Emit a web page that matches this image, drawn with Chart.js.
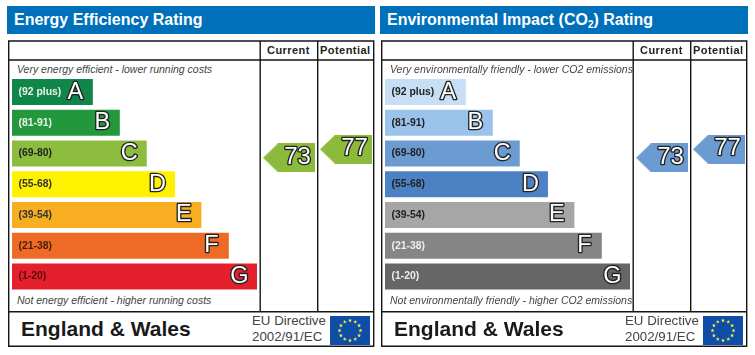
<!DOCTYPE html>
<html><head><meta charset="utf-8">
<script src="https://cdn.jsdelivr.net/npm/chart.js@4"></script>
<style>
html,body{margin:0;padding:0;background:#fff;width:755px;height:355px;overflow:hidden}
body{font-family:"Liberation Sans",Arial,sans-serif;position:relative;filter:blur(.4px)}
.panel{position:absolute;top:0;width:377px;height:355px}
.panel canvas{position:absolute;left:0;top:0}
.panel svg.grid{position:absolute;left:0;top:0}
.head{position:absolute;left:7px;top:6px;width:361px;height:28px;padding-left:7px;background:#0070ba;color:#fff;font:bold 16px/27px "Liberation Sans";white-space:nowrap}
.head sub{font-size:10px;line-height:0;vertical-align:-3px}
.t{position:absolute;white-space:nowrap}
.note{left:17px;font:italic 10.5px/12px "Liberation Sans";color:#444}
.col{top:43px;font:bold 11px/14px "Liberation Sans";color:#222;letter-spacing:.45px}
.nation{left:21px;top:316px;font:bold 21px/26px "Liberation Sans";color:#1a1a1a}
.eu{left:252px;font:13.3px/16px "Liberation Sans";color:#444}
.flag{position:absolute;left:330px;top:316px}
</style></head>
<body>
<script>
const bandRanges = ['(92 plus)','(81-91)','(69-80)','(55-68)','(39-54)','(21-38)','(1-20)'];
const bandLetters = ['A','B','C','D','E','F','G'];
const bandLengths = [33,44,55,66.5,77.3,88.5,100];
const energyColors = ['#11864a','#23973c','#8cbd3e','#fff200','#f7ae20','#ee6b25','#e3202c'];
const energyLabelColors = ['#e8f4ea','#e8f4ea','#222','#333','#333','#4a1d08','#5a0a10'];
const envColors = ['#c7def4','#9ac3ec','#6c9bd2','#4c82c4','#a6a6a6','#858585','#666666'];
const envLabelColors = ['#222','#222','#222','#222','#222','#eee','#eee'];
const columnTitles = ['Current','Potential'];
const energyRatings = [73,77];
const envRatings = [73,77];
const panels = [
  {left:0, title:'Energy Efficiency Rating', top:'Very energy efficient - lower running costs', bottom:'Not energy efficient - higher running costs', colors:energyColors, labels:energyLabelColors, ratings:energyRatings, arrow:'#8cbb3c'},
  {left:373, title:'Environmental Impact (CO<sub>2</sub>) Rating', top:'Very environmentally friendly - lower CO2 emissions', bottom:'Not environmentally friendly - higher CO2 emissions', colors:envColors, labels:envLabelColors, ratings:envRatings, arrow:'#6c9bd2'}
];
const FONT = '"Liberation Sans"';

function outlined(ctx, text, x, y, size){
  ctx.save();
  ctx.font = size + 'px ' + FONT;
  ctx.textAlign = 'center';
  ctx.textBaseline = 'middle';
  ctx.lineJoin = 'round';
  ctx.lineWidth = 2.7;
  ctx.strokeStyle = '#222';
  ctx.strokeText(text, x, y);
  ctx.fillStyle = '#fff';
  ctx.fillText(text, x, y);
  ctx.restore();
}
function arrowImage(color){
  const c = document.createElement('canvas');
  c.width = 52; c.height = 29;
  const g = c.getContext('2d');
  g.fillStyle = color;
  g.beginPath();
  g.moveTo(0,14.5); g.lineTo(15,0); g.lineTo(52,0); g.lineTo(52,29); g.lineTo(15,29);
  g.closePath(); g.fill();
  return c;
}
const overlay = {
  id:'overlay',
  afterDatasetsDraw(chart){
    const ctx = chart.ctx;
    chart.getDatasetMeta(0).data.forEach((bar,i)=>{
      outlined(ctx, bandLetters[i], bar.x - 17.5, bar.y, 23.5);
    });
    const ds = chart.data.datasets[1];
    chart.getDatasetMeta(1).data.forEach((pt,i)=>{
      outlined(ctx, String(ds.data[i].score), pt.x + 8.5, pt.y - 0.8, 24);
    });
  }
};
function star(cx,cy,r){
  let d='';
  for(let i=0;i<10;i++){
    const a=-Math.PI/2+i*Math.PI/5, q=i%2?r*.42:r;
    d+=(i?'L':'M')+(cx+q*Math.cos(a)).toFixed(2)+' '+(cy+q*Math.sin(a)).toFixed(2);
  }
  return d+'Z';
}
function flagSvg(){
  let s='<svg class="flag" width="40" height="29"><rect width="40" height="29" fill="#0f4ea6"/>';
  for(let i=0;i<12;i++){
    const a=i*Math.PI/6;
    s+='<path fill="#f8e64e" d="'+star(20+10.5*Math.cos(a),14.5+10*Math.sin(a),2.1)+'"/>';
  }
  return s+'</svg>';
}
panels.forEach(p=>{
  const el = document.createElement('div');
  el.className='panel';
  el.style.left=p.left+'px';
  el.innerHTML =
   '<div class="head">'+p.title+'</div>'+
   '<svg class="grid" width="377" height="355" fill="none" stroke="#151515" stroke-width="1.4">'+
     '<path d="M8.7 41H373.7V346.3H8.7Z M8.7 60H373.7 M8.7 311.7H373.7 M260.2 41V311.7 M317.7 41V311.7"/></svg>'+
   '<div class="t note" style="top:62.5px">'+p.top+'</div>'+
   '<div class="t note" style="top:294px">'+p.bottom+'</div>'+
   '<div class="t col" style="left:267px">'+columnTitles[0]+'</div>'+
   '<div class="t col" style="left:320px">'+columnTitles[1]+'</div>'+
   '<div class="t nation">England &amp; Wales</div>'+
   '<div class="t eu" style="top:313px">EU Directive</div>'+
   '<div class="t eu" style="top:329px">2002/91/EC</div>'+
   flagSvg()+
   '<canvas width="377" height="355"></canvas>';
  document.body.appendChild(el);
  const canvas = el.querySelector('canvas');
  new Chart(canvas,{
    type:'bar',
    data:{
      labels:bandRanges,
      datasets:[
        {type:'bar',indexAxis:'y',data:bandLengths,backgroundColor:p.colors,xAxisID:'x',yAxisID:'y',grouped:false,barPercentage:.85,categoryPercentage:1,order:2},
        {type:'scatter',indexAxis:'x',xAxisID:'col',yAxisID:'score',clip:false,order:1,
         data:p.ratings.map((score,i)=>({col:i,score})),
         parsing:{xAxisKey:'col',yAxisKey:'score'},
         pointStyle:arrowImage(p.arrow)}
      ]
    },
    plugins:[overlay],
    options:{
      indexAxis:'y',responsive:false,animation:false,
      layout:{padding:{left:12,right:5,top:76.7,bottom:63.2}},
      plugins:{legend:{display:false},tooltip:{enabled:false},title:{display:false}},
      scales:{
        x:{axis:'x',type:'linear',min:0,max:146.94,display:false},
        y:{axis:'y',type:'category',position:'left',offset:true,
           afterFit:s=>{s.width=0;},
           grid:{display:false,drawTicks:false},border:{display:false},
           ticks:{z:1,mirror:true,padding:6.5,autoSkip:false,
             font:{family:'Liberation Sans',size:10.4,weight:'bold'},
             color:c=>p.labels[c.index]}},
        col:{axis:'x',type:'linear',min:-4.86,max:1.456,display:false},
        score:{axis:'y',type:'linear',min:15.0,max:106.1,display:false}
      }
    }
  });
});
</script>
</body></html>
